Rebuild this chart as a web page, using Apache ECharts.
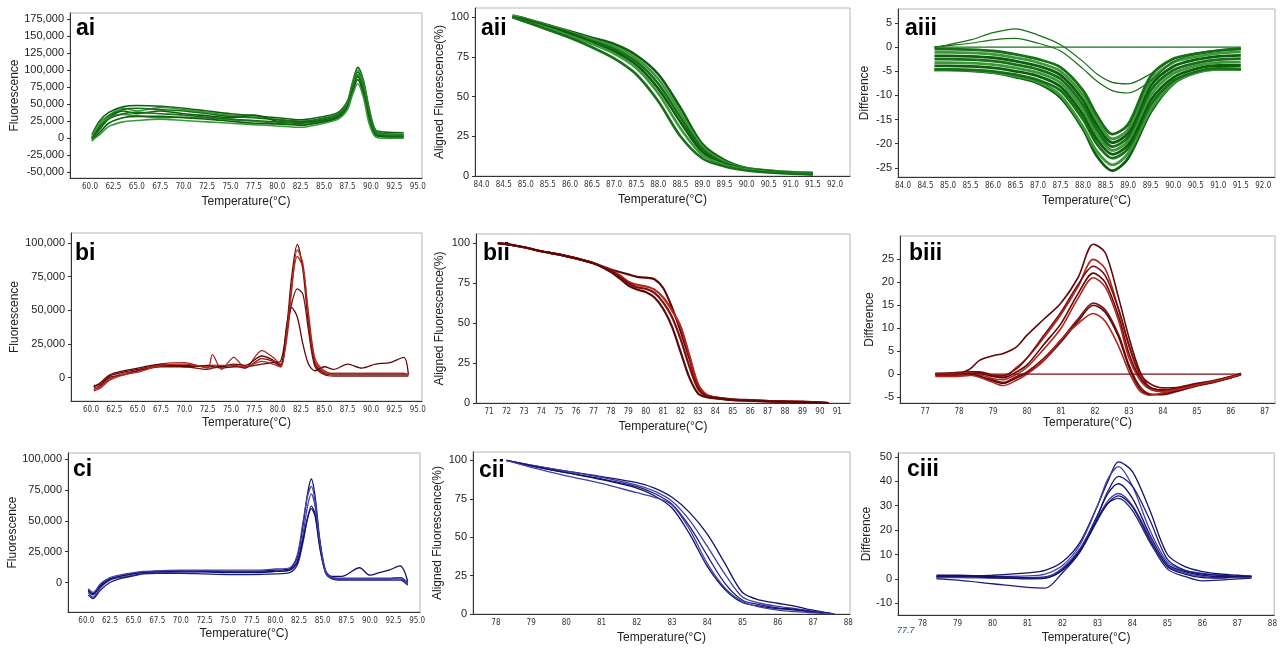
<!DOCTYPE html>
<html>
<head>
<meta charset="utf-8">
<title>HRM melt curves</title>
<script src="https://cdn.jsdelivr.net/npm/echarts@6/dist/echarts.min.js"></script>
<style>
  html, body { margin: 0; padding: 0; background: #fff; }
  #chart { width: 1280px; height: 648px; }
</style>
</head>
<body>
<div id="chart"></div>
<script>
// ---------- tick labels ----------
var wideTempTicks = [60, 62.5, 65, 67.5, 70, 72.5, 75, 77.5, 80, 82.5, 85, 87.5, 90, 92.5, 95];
var aTempTicks = [84, 84.5, 85, 85.5, 86, 86.5, 87, 87.5, 88, 88.5, 89, 89.5, 90, 90.5, 91, 91.5, 92];
var biiTempTicks = [71, 72, 73, 74, 75, 76, 77, 78, 79, 80, 81, 82, 83, 84, 85, 86, 87, 88, 89, 90, 91];
var biiiTempTicks = [77, 78, 79, 80, 81, 82, 83, 84, 85, 86, 87];
var cTempTicks = [78, 79, 80, 81, 82, 83, 84, 85, 86, 87, 88];
var aiFluorTicks = [-50000, -25000, 0, 25000, 50000, 75000, 100000, 125000, 150000, 175000];
var bcFluorTicks = [0, 25000, 50000, 75000, 100000];
var pctTicks = [0, 25, 50, 75, 100];
var aiiiDiffTicks = [-25, -20, -15, -10, -5, 0, 5];
var biiiDiffTicks = [-5, 0, 5, 10, 15, 20, 25];
var ciiiDiffTicks = [-10, 0, 10, 20, 30, 40, 50];

// ---------- ai : raw fluorescence (green) ----------
var aiTemp = [60.2, 61, 62, 63.5, 65, 67.5, 70, 72.5, 75, 77.5, 80, 82.5, 85, 86.5, 87.5, 88, 88.6, 89.2, 89.8, 90.5, 91.5, 93.5];
var ai1 = [5000, 25000, 38000, 46000, 48000, 47000, 44000, 40000, 36000, 33000, 30000, 27000, 32000, 38000, 55000, 80000, 104000, 85000, 45000, 12000, 9000, 8000];
var ai2 = [0, 18000, 32000, 42000, 44000, 42000, 40000, 36000, 32000, 30000, 27000, 25000, 29000, 35000, 52000, 75000, 97000, 78000, 40000, 10000, 6000, 5000];
var ai3 = [-2000, 12000, 28000, 36000, 38000, 36000, 34000, 31000, 28000, 26000, 24000, 22000, 26000, 32000, 48000, 70000, 92000, 72000, 34000, 7000, 4000, 3000];
var ai4 = [-4000, 8000, 22000, 30000, 32000, 32000, 30000, 28000, 25000, 22000, 21000, 19000, 24000, 30000, 45000, 66000, 86000, 65000, 28000, 4000, 2000, 1000];
var ai5 = [-3000, 5000, 17000, 24000, 26000, 28000, 26000, 24000, 22000, 20000, 18000, 16000, 22000, 28000, 42000, 62000, 80000, 60000, 22000, 2000, 0, 0];
var ai6 = [2000, 20000, 30000, 35000, 33000, 30000, 31000, 30000, 27000, 25000, 22000, 20000, 25000, 31000, 50000, 72000, 94000, 75000, 36000, 8000, 5000, 4000];
var ai7 = [-1000, 15000, 30000, 40000, 36000, 40000, 36000, 33000, 30000, 34000, 25000, 23000, 27000, 33000, 50000, 73000, 90000, 70000, 32000, 6000, 4000, 3000];
var ai8 = [1000, 22000, 34000, 44000, 40000, 45000, 42000, 38000, 34000, 31000, 28000, 24000, 30000, 36000, 53000, 78000, 100000, 82000, 42000, 11000, 7000, 6000];

// ---------- aii : aligned fluorescence (green) ----------
var aiiTemp = [84.7, 85, 85.5, 86, 86.5, 87, 87.5, 88, 88.5, 89, 89.5, 90, 90.5, 91, 91.5];
var aii1 = [101, 99, 95, 91, 87, 83, 76, 64, 43, 20, 10, 5, 3.5, 2.5, 2];
var aii2 = [100, 98, 94, 90, 85, 80, 72, 58, 37, 17, 8, 4.5, 3, 2, 1.5];
var aii3 = [100, 97, 93, 88, 83, 77, 68, 52, 30, 13, 7, 4, 2.5, 1.8, 1.2];
var aii4 = [100, 97, 92, 87, 81, 74, 64, 47, 25, 11, 6, 3.5, 2.2, 1.5, 1];
var aii5 = [100, 98, 94, 89.5, 84, 78.5, 70, 55, 34, 15, 7.5, 4.2, 2.8, 1.9, 1.3];
var aii6 = [101, 98.5, 94.5, 90.5, 86, 81.5, 74, 61, 40, 18.5, 9, 4.8, 3.2, 2.2, 1.7];

// ---------- aiii : difference plot (green) ----------
var aiiiTemp = [84.7, 85.0, 85.5, 86.0, 86.5, 87.0, 87.5, 88.0, 88.3, 88.65, 89.0, 89.5, 90.0, 90.5, 91.0, 91.5];
var aiiiRefTemp = [84.7, 91.5];
var aiiiRef = [0, 0];
var aiiiB1 = [-0.4, -0.4, -0.5, -0.8, -1.5, -2.5, -4.2, -9, -14, -18, -16, -6, -2.4, -1.4, -0.7, -0.3];
var aiiiB2 = [-1.1, -1.1, -1.2, -1.5, -2.2, -3.2, -5, -10, -15, -19, -17, -7, -3.2, -2, -1.3, -1];
var aiiiB3 = [-1.8, -1.8, -1.9, -2.2, -2.9, -3.9, -5.8, -11, -16, -19.8, -17.8, -8, -4, -2.6, -1.9, -1.7];
var aiiiB4 = [-2.5, -2.5, -2.6, -2.9, -3.6, -4.6, -6.6, -12, -17, -20.6, -18.6, -9, -4.8, -3.3, -2.6, -2.4];
var aiiiB5 = [-3.2, -3.2, -3.3, -3.6, -4.3, -5.3, -7.4, -13, -18, -21.4, -19.4, -10, -5.5, -3.9, -3.2, -3.1];
var aiiiB6 = [-3.9, -3.9, -4, -4.3, -5, -6, -8.2, -14, -19, -22.2, -20.2, -11, -6.3, -4.5, -3.8, -3.8];
var aiiiB7 = [-4.6, -4.6, -4.7, -5, -5.7, -6.8, -9, -15, -20, -23, -21, -12, -7, -5.1, -4.4, -4.5];
var aiiiLow1 = [-4.7, -4.7, -4.8, -5.2, -6, -7.2, -10, -16.5, -21.5, -24.4, -22, -13, -7.5, -5.3, -4.6, -4.6];
var aiiiLow2 = [-4.7, -4.7, -4.9, -5.3, -6.2, -7.5, -10.5, -17, -22.5, -25.6, -23, -13.5, -7.6, -5.3, -4.6, -4.6];
var aiiiHigh1 = [0, 0.5, 1.5, 3, 3.8, 2.5, 0.5, -3, -5.5, -7.3, -7.6, -5.5, -2.5, -1.2, -0.6, -0.3];
var aiiiHigh2 = [0, 0.3, 0.8, 1.5, 1.8, 0.8, -0.8, -4.5, -7, -9, -9.5, -7, -3, -1.5, -0.8, -0.5];

// ---------- bi : raw fluorescence (red) ----------
var biTemp = [60.3, 61, 62, 63.5, 65, 67.5, 70, 72.5, 73, 74, 75.3, 76.5, 78.3, 79.5, 80.3, 81, 81.5, 82.1, 82.7, 83.3, 84, 85, 86, 87.5, 89, 90.5, 92, 93.5, 94];
var bi1 = [-6000, -5000, 1000, 4000, 6000, 9000, 9000, 8000, 8000, 7000, 8000, 8000, 10000, 11000, 12000, 40000, 75000, 99000, 80000, 40000, 10000, 3000, 2000, 2000, 2000, 2000, 2000, 2000, 2000];
var bi2 = [-9000, -7000, -1000, 3000, 5000, 10000, 11000, 7000, 17000, 6000, 15000, 7000, 20000, 15000, 10000, 30000, 65000, 95000, 85000, 45000, 12000, 4000, 3000, 3000, 3000, 3000, 3000, 3000, 2000];
var bi3 = [-8000, -6000, 0, 2000, 5000, 8000, 8000, 6000, 7000, 8000, 9000, 7000, 14000, 12000, 8000, 35000, 55000, 66000, 62000, 35000, 8000, 2000, 1000, 1000, 1000, 1000, 1000, 1000, 1000];
var bi4 = [-7000, -4000, 2000, 5000, 7000, 10000, 8000, 9000, 9000, 8000, 10000, 9000, 16000, 13000, 9000, 40000, 52000, 45000, 25000, 10000, 5000, 8000, 6000, 10000, 7000, 10000, 11000, 15000, 2000];
var bi5 = [-10000, -8000, -2000, 2000, 4000, 9000, 10000, 8000, 9000, 9000, 9000, 8000, 12000, 10000, 8000, 35000, 68000, 90000, 82000, 48000, 14000, 5000, 3000, 3000, 3000, 3000, 3000, 3000, 2000];

// ---------- bii : aligned fluorescence (red) ----------
var biiTemp = [71.5, 72, 73, 74, 75, 76, 77, 78, 78.5, 79, 79.5, 80, 80.5, 81, 81.5, 82, 82.5, 83, 83.5, 84, 85, 86, 87, 88, 89, 90.5];
var bii1 = [100, 99.5, 97.5, 95, 93, 90.5, 87.5, 83.5, 82, 80.5, 79, 78.5, 77.5, 72, 60, 45, 28, 11, 5, 3.5, 2.3, 1.8, 1.3, 1, 0.8, 0];
var bii2 = [100, 99.5, 97.5, 95, 93, 90.5, 87.5, 83, 80, 76, 74, 73, 71, 66, 58, 48, 30, 12, 5, 3.4, 2.2, 1.7, 1.2, 0.9, 0.7, 0];
var bii3 = [100, 99.5, 97.5, 95, 93, 90.5, 87.5, 82.5, 79, 75, 72.5, 71.5, 69, 63, 54, 40, 23, 9, 4.2, 3.2, 2, 1.6, 1.1, 0.8, 0.6, 0];
var bii4 = [100, 99.5, 97.5, 95, 93, 90.5, 87.5, 82, 78, 73.5, 71, 69.5, 66, 59, 48, 32, 16, 6, 3.6, 2.9, 1.8, 1.4, 1, 0.7, 0.5, 0];

// ---------- biii : difference plot (red) ----------
var biiiTemp = [77.3, 77.8, 78.3, 78.6, 79.0, 79.3, 79.7, 80.0, 80.5, 81.0, 81.5, 81.95, 82.3, 82.7, 83.0, 83.3, 83.6, 84.0, 84.5, 85.0, 85.5, 86.0, 86.3];
var biiiRefTemp = [77.3, 86.3];
var biiiRef = [0, 0];
var biii1 = [0, 0, 1, 3, 4, 4.5, 6, 8.5, 12, 15.5, 21, 28.3, 26.5, 16.5, 8, 1, -2.8, -3.5, -3, -2.2, -1.5, -0.6, 0];
var biii2 = [0, 0, 0.3, 0.2, -0.5, -0.5, 1.5, 3.5, 8, 13, 19, 25, 23, 14, 6, 0, -3, -3.8, -3.2, -2.3, -1.5, -0.6, 0];
var biii3 = [0.2, 0.3, 0.5, 0.5, -0.2, -0.3, 1.2, 3.5, 8.5, 13.5, 19.5, 23.5, 21.5, 14, 6.5, 0.5, -2, -3, -2.8, -2, -1.4, -0.5, 0.2];
var biii4 = [-0.3, -0.3, 0, 0.3, -0.5, -0.8, 0.5, 2, 6.5, 11, 17.5, 22, 20, 12.5, 4.5, -0.5, -2.8, -3.5, -3, -2.2, -1.6, -0.7, 0];
var biii5 = [-0.5, -0.5, -0.3, -0.2, -1, -1.2, 0, 1.5, 5.5, 10, 16.5, 21, 19, 11.5, 3.5, -1, -3.2, -3.8, -3.2, -2.4, -1.7, -0.8, -0.2];
var biii6 = [0, 0, 0, -0.5, -1.3, -1.8, -0.5, 0.5, 3.5, 7.5, 12, 15.5, 14, 8.5, 2, -2.5, -4.3, -4.5, -3.6, -2.6, -1.8, -0.8, 0];
var biii7 = [0, 0, 0, -0.5, -1.5, -2, -0.8, 0.2, 3, 7, 11.5, 15, 13.5, 8, 1.5, -3, -4.5, -4.3, -3.5, -2.5, -1.7, -0.8, 0];
var biii8 = [0, 0, -0.2, -0.7, -1.8, -2.5, -1.3, 0, 3, 7.5, 11, 13.2, 11.5, 6, 0.5, -3.5, -4.6, -4.1, -3.3, -2.4, -1.6, -0.7, 0];

// ---------- ci : raw fluorescence (blue) ----------
var ciTemp = [60.2, 60.7, 61.5, 62.5, 63.5, 65, 66, 67.5, 70, 72.5, 75, 77.5, 80, 81.5, 82.3, 82.9, 83.4, 83.8, 84.2, 84.7, 85.3, 86, 87, 88.9, 90, 91, 92, 93.2, 94];
var ci1 = [-6000, -10000, -2000, 3000, 5000, 7000, 8000, 9000, 9000, 9500, 9000, 9000, 10000, 11000, 20000, 45000, 72000, 84000, 70000, 35000, 10000, 4000, 3000, 3000, 3000, 3000, 3000, 4000, 0];
var ci2 = [-8000, -12000, -4000, 2000, 4000, 6000, 7500, 8000, 8500, 8500, 8500, 8500, 9000, 10000, 17000, 38000, 62000, 72000, 62000, 32000, 9000, 4000, 3000, 3000, 3000, 3000, 3000, 3000, -1000];
var ci3 = [-10000, -13000, -6000, 0, 3000, 5500, 7000, 7500, 7500, 7000, 6500, 6500, 7000, 8000, 14000, 32000, 52000, 62000, 56000, 30000, 8000, 3000, 2000, 2000, 2000, 2000, 2000, 2000, -2000];
var ci4 = [-7000, -9000, -3000, 2500, 5000, 7500, 8500, 9000, 9500, 9000, 8000, 8000, 9000, 10000, 16000, 34000, 52000, 60000, 54000, 28000, 9000, 5000, 5000, 12000, 6000, 8000, 10000, 13500, 1000];
var ci5 = [-5000, -8000, -1000, 4000, 6000, 8000, 9000, 9500, 10000, 10000, 10000, 10000, 11000, 12000, 22000, 48000, 70000, 78000, 66000, 33000, 9000, 4000, 3500, 3500, 3500, 3500, 3500, 4000, 0];

// ---------- cii : aligned fluorescence (blue) ----------
var ciiTemp = [78.3, 79, 80, 81, 82, 82.5, 83, 83.5, 84, 84.5, 85, 85.5, 86, 86.5, 87, 87.6];
var cii1 = [100, 97, 93, 89.5, 85.5, 82, 76, 66, 52, 33, 14, 9, 7, 5, 2.5, 0];
var cii2 = [100, 97, 93, 89, 84, 80, 73.5, 61, 44, 26, 11, 7, 5, 3.5, 1.8, 0];
var cii3 = [100, 96.5, 92, 88, 83, 78.5, 71.5, 57, 38, 20, 9, 6, 4, 3, 1.5, 0];
var cii4 = [100, 96.5, 92, 87.5, 82, 77, 69, 52, 31, 16, 7.5, 5, 3.5, 2.5, 1.2, 0];
var cii5 = [100, 95.5, 90, 85, 79, 76, 71, 55, 33, 17, 8, 4.5, 2.5, 1.5, 0.8, 0];

// ---------- ciii : difference plot (blue) ----------
var ciiiTemp = [78.4, 79, 80, 81, 81.5, 82, 82.5, 83, 83.3, 83.6, 84, 84.5, 85, 85.5, 86, 86.5, 87, 87.4];
var ciii1 = [0.5, 0.8, 1.5, 2.5, 3.5, 7, 15, 30, 40, 48, 44, 28, 10, 5, 3, 2, 1.5, 1];
var ciii2 = [1, 1, 1, 1.2, 2, 5.5, 14, 30, 41, 46, 38, 20, 7, 3.5, 2.3, 1.5, 1, 1];
var ciii3 = [1, 1, 0.8, 0.5, 0.8, 4, 12, 26, 36, 42, 38, 24, 8, 3.5, 2, 1.5, 1, 1];
var ciii4 = [1.5, 1.5, 1, 0.5, 0.5, 4, 12, 26, 35, 39, 33, 18, 6, 3, 1.5, 1, 1, 1];
var ciii5 = [0.5, 0.5, 0.3, 0.2, 0.5, 4.5, 12.5, 25, 32, 35, 30, 17, 5.5, 2.5, 1, 0.5, 0.5, 0.5];
var ciii6 = [0, -0.5, -2, -3.5, -3.8, 2.5, 11, 24, 31, 33, 28, 15, 4, 1, -0.8, -0.5, 0, 0.3];
var ciii7 = [1, 1, 0.5, 0, 0.2, 3.5, 11.5, 24.5, 31, 34, 29.5, 16, 5, 2, 0.5, 0.3, 1, 1];

// ---------- layout ----------
var green = ['#0f5e0f', '#3a9a3a', '#176f17'];
var red = ['#5e0808', '#b3261e', '#781010'];
var blue = ['#12126a', '#4040a8', '#1c1c80'];

var panels = [
  { label: 'ai', lx: 76, ly: 38, grid: [70, 13, 352, 165], x: [57.86, 95.46, wideTempTicks, 1], y: [-58400, 183800, aiFluorTicks], yName: 'Fluorescence', yGap: 49, xGap: 18, comma: true,
    temp: aiTemp, curves: [ai1, ai8, ai2, ai7, ai6, ai3, ai4, ai5], col: green, w: 1.6 },
  { label: 'aii', lx: 481, ly: 38, grid: [475, 8, 375, 168], x: [83.85, 92.34, aTempTicks, 1], y: [0, 105.7, pctTicks], yName: 'Aligned Fluorescence(%)', yGap: 29, xGap: 18,
    temp: aiiTemp, curves: [aii1, aii6, aii2, aii5, aii3, aii4], col: green, w: 2.6 },
  { label: 'aiii', lx: 905, ly: 38, grid: [898, 9, 377, 168], x: [83.89, 92.26, aTempTicks, 1], y: [-26.9, 7.9, aiiiDiffTicks], yName: 'Difference', yGap: 27, xGap: 18,
    temp: aiiiTemp, curves: [aiiiLow2, aiiiLow1, aiiiB7, aiiiB6, aiiiB5, aiiiB4, aiiiB3, aiiiB2, aiiiB1], col: green, w: 2.8,
    extra: [[aiiiTemp, aiiiHigh1], [aiiiTemp, aiiiHigh2], [aiiiRefTemp, aiiiRef]] },
  { label: 'bi', lx: 75, ly: 263, grid: [71, 233, 351, 168], x: [57.86, 95.46, wideTempTicks, 1], y: [-17500, 107500, bcFluorTicks], yName: 'Fluorescence', yGap: 50, xGap: 16, comma: true,
    temp: biTemp, curves: [bi1, bi2, bi3, bi4, bi5], col: red, w: 1.3 },
  { label: 'bii', lx: 483, ly: 263, grid: [476, 234, 374, 169], x: [70.25, 91.73, biiTempTicks, 0], y: [0, 105.8, pctTicks], yName: 'Aligned Fluorescence(%)', yGap: 30, xGap: 18,
    temp: biiTemp, curves: [bii1, bii2, bii3, bii4], col: red, w: 2.2 },
  { label: 'biii', lx: 909, ly: 263, grid: [900, 236, 375, 167], x: [76.26, 87.3, biiiTempTicks, 0], y: [-6.3, 30.1, biiiDiffTicks], yName: 'Difference', yGap: 24, xGap: 13,
    temp: biiiTemp, curves: [biii1, biii2, biii3, biii4, biii5, biii6, biii7, biii8], col: red, w: 1.6,
    extra: [[biiiRefTemp, biiiRef]] },
  { label: 'ci', lx: 73, ly: 479, grid: [68, 453, 352, 159], x: [58.06, 95.3, wideTempTicks, 1], y: [-23900, 105100, bcFluorTicks], yName: 'Fluorescence', yGap: 49, xGap: 16, comma: true,
    temp: ciTemp, curves: [ci1, ci2, ci3, ci4, ci5], col: blue, w: 1.3 },
  { label: 'cii', lx: 479, ly: 480, grid: [473, 452, 377, 162], x: [77.35, 88.05, cTempTicks, 0], y: [0, 105.5, pctTicks], yName: 'Aligned Fluorescence(%)', yGap: 29, xGap: 18,
    temp: ciiTemp, curves: [cii1, cii2, cii3, cii4, cii5], col: blue, w: 1.3 },
  { label: 'ciii', lx: 907, ly: 479, grid: [898, 453, 377, 162], x: [77.3, 88.05, cTempTicks, 0], y: [-14.8, 51.6, ciiiDiffTicks], yName: 'Difference', yGap: 25, xGap: 17,
    temp: ciiiTemp, curves: [ciii1, ciii2, ciii3, ciii4, ciii5, ciii6, ciii7], col: blue, w: 1.3 }
];

function pairUp(xs, ys) {
  return xs.map(function (x, i) { return [x, ys[i]]; });
}

function lineSeries(idx, xs, ys, color, width) {
  return {
    type: 'line', xAxisIndex: idx, yAxisIndex: idx,
    data: pairUp(xs, ys),
    smooth: 0.3, showSymbol: false, silent: true, animation: false,
    lineStyle: { color: color, width: width }
  };
}

var grids = [], xAxes = [], yAxes = [], series = [], graphics = [];
var tickFont = '"Liberation Sans", Arial, sans-serif';

panels.forEach(function (p, idx) {
  grids.push({ left: p.grid[0], top: p.grid[1], width: p.grid[2], height: p.grid[3],
    show: true, borderColor: '#b5b5b5', borderWidth: 1, backgroundColor: '#fff' });

  xAxes.push({
    type: 'value', gridIndex: idx, min: p.x[0], max: p.x[1],
    name: 'Temperature(°C)', nameLocation: 'middle', nameGap: p.xGap,
    nameTextStyle: { fontSize: 12, color: '#222', fontFamily: tickFont },
    axisLine: { onZero: false, lineStyle: { color: '#333', width: 1 } },
    axisTick: { show: false },
    splitLine: { show: false },
    axisLabel: { customValues: p.x[2], margin: 5, fontSize: 8, color: '#333',
      fontFamily: '"Liberation Sans Narrow", "DejaVu Sans Condensed", Arial, sans-serif',
      formatter: function (v) { return v.toFixed(p.x[3]); } }
  });

  yAxes.push({
    type: 'value', gridIndex: idx, min: p.y[0], max: p.y[1],
    name: p.yName, nameLocation: 'middle', nameGap: p.yGap, nameRotate: 90,
    nameTextStyle: { fontSize: 12, color: '#222', fontFamily: tickFont },
    axisLine: { show: true, onZero: false, lineStyle: { color: '#333', width: 1 } },
    axisTick: { show: true, customValues: p.y[2], length: 3, lineStyle: { color: '#333' } },
    splitLine: { show: false },
    axisLabel: { customValues: p.y[2], margin: 6, fontSize: 11, color: '#222', fontFamily: tickFont,
      formatter: function (v) { return p.comma ? v.toLocaleString('en-US') : String(v); } }
  });

  p.curves.forEach(function (ys, k) {
    series.push(lineSeries(idx, p.temp, ys, p.col[k % p.col.length], p.w));
  });
  (p.extra || []).forEach(function (e) {
    series.push(lineSeries(idx, e[0], e[1], p.col[2], 1.2));
  });

  graphics.push({
    type: 'text', left: p.lx, top: p.ly - 21, silent: true,
    style: { text: p.label, font: 'bold 23px "Liberation Sans", Arial, sans-serif', fill: '#000' }
  });
});

// stray cursor readout under ciii
graphics.push({
  type: 'text', left: 897, top: 626, silent: true,
  style: { text: '77.7', font: 'italic 9px "Liberation Sans", Arial, sans-serif', fill: '#2b4c8c' }
});

var chart = echarts.init(document.getElementById('chart'));
chart.setOption({
  animation: false,
  backgroundColor: '#fff',
  grid: grids,
  xAxis: xAxes,
  yAxis: yAxes,
  series: series,
  graphic: graphics
});
</script>
</body>
</html>
